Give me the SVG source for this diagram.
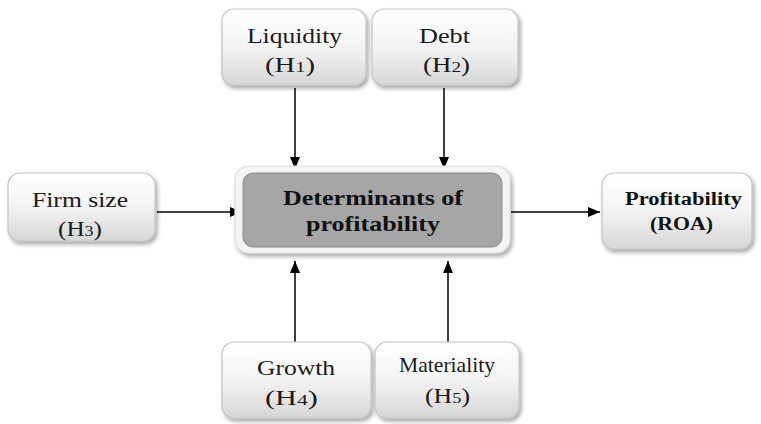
<svg xmlns="http://www.w3.org/2000/svg" width="761" height="424" viewBox="0 0 761 424">
<defs>
<linearGradient id="g" x1="0" y1="0" x2="0" y2="1">
<stop offset="0" stop-color="#ffffff"/>
<stop offset="0.5" stop-color="#f3f3f3"/>
<stop offset="1" stop-color="#d6d6d6"/>
</linearGradient>
<filter id="sh" x="-10%" y="-10%" width="125%" height="130%">
<feGaussianBlur in="SourceAlpha" stdDeviation="2"/>
<feOffset dx="2" dy="3" result="b"/>
<feComponentTransfer><feFuncA type="linear" slope="0.35"/></feComponentTransfer>
<feMerge><feMergeNode/><feMergeNode in="SourceGraphic"/></feMerge>
</filter>
<marker id="ah" viewBox="0 0 12 10" refX="12" refY="5" markerWidth="12" markerHeight="10" markerUnits="userSpaceOnUse" orient="auto">
<path d="M0,0 L12,5 L0,10 z" fill="#000"/>
</marker>
</defs>
<style>
.box{fill:url(#g);stroke:#c4c4c4;stroke-width:1.2;filter:url(#sh)}
.t{font-family:"Liberation Serif","Times New Roman",serif;font-size:21px;fill:#1a1a1a;text-anchor:middle}
.b{font-family:"Liberation Serif","Times New Roman",serif;font-weight:bold;fill:#111;text-anchor:middle}
.s{font-size:15px}
.c{stroke:#000;stroke-width:1.5;fill:none;marker-end:url(#ah)}
</style>
<rect width="761" height="424" fill="#fff"/>
<g id="connectors">
<line class="c" x1="295" y1="88" x2="295" y2="169"/>
<line class="c" x1="444" y1="88" x2="444" y2="169"/>
<line class="c" x1="157" y1="212" x2="242" y2="212"/>
<line class="c" x1="511" y1="212" x2="600" y2="212"/>
<line class="c" x1="295" y1="342" x2="295" y2="261"/>
<line class="c" x1="448" y1="342" x2="448" y2="261"/>
</g>
<g id="liquidity">
<rect class="box" x="222" y="9" width="144" height="76" rx="12"/>
<text class="t" x="294.5" y="43" textLength="95" lengthAdjust="spacingAndGlyphs">Liquidity</text>
<text class="t" x="290" y="72" textLength="50" lengthAdjust="spacingAndGlyphs">(H<tspan class="s">1</tspan>)</text>
</g>
<g id="debt">
<rect class="box" x="372" y="9" width="146" height="76" rx="12"/>
<text class="t" x="444.5" y="43" textLength="51" lengthAdjust="spacingAndGlyphs">Debt</text>
<text class="t" x="446.5" y="72" textLength="47" lengthAdjust="spacingAndGlyphs">(H<tspan class="s">2</tspan>)</text>
</g>
<g id="firmsize">
<rect class="box" x="8" y="173" width="147" height="68" rx="12"/>
<text class="t" x="80" y="207" textLength="96" lengthAdjust="spacingAndGlyphs">Firm size</text>
<text class="t" x="80" y="236" textLength="44" lengthAdjust="spacingAndGlyphs">(H<tspan class="s">3</tspan>)</text>
</g>
<g id="determinants">
<rect x="235" y="166" width="275" height="87" rx="14" fill="#f4f4f4" stroke="#dcdcdc" stroke-width="1.2" filter="url(#sh)"/>
<rect x="243" y="173" width="259" height="74" rx="10" fill="#a6a6a6" stroke="#8a8a8a" stroke-width="1"/>
<text class="b" x="373" y="205" font-size="21" textLength="180" lengthAdjust="spacingAndGlyphs">Determinants of</text>
<text class="b" x="373" y="231" font-size="21" textLength="134" lengthAdjust="spacingAndGlyphs">profitability</text>
</g>
<g id="profitability">
<rect class="box" x="602" y="173" width="150" height="76" rx="12"/>
<text class="b" x="683.5" y="205" font-size="18" textLength="117" lengthAdjust="spacingAndGlyphs">Profitability</text>
<text class="b" x="681.5" y="230" font-size="18" textLength="63" lengthAdjust="spacingAndGlyphs">(ROA)</text>
</g>
<g id="growth">
<rect class="box" x="222" y="342" width="149" height="76" rx="12"/>
<text class="t" x="296" y="375" textLength="78" lengthAdjust="spacingAndGlyphs">Growth</text>
<text class="t" x="291.5" y="405" textLength="53" lengthAdjust="spacingAndGlyphs">(H<tspan class="s">4</tspan>)</text>
</g>
<g id="materiality">
<rect class="box" x="375" y="342" width="144" height="76" rx="12"/>
<text class="t" x="447" y="372" font-size="19" textLength="96" lengthAdjust="spacingAndGlyphs">Materiality</text>
<text class="t" x="447.5" y="403" textLength="45" lengthAdjust="spacingAndGlyphs">(H<tspan class="s">5</tspan>)</text>
</g>
</svg>
